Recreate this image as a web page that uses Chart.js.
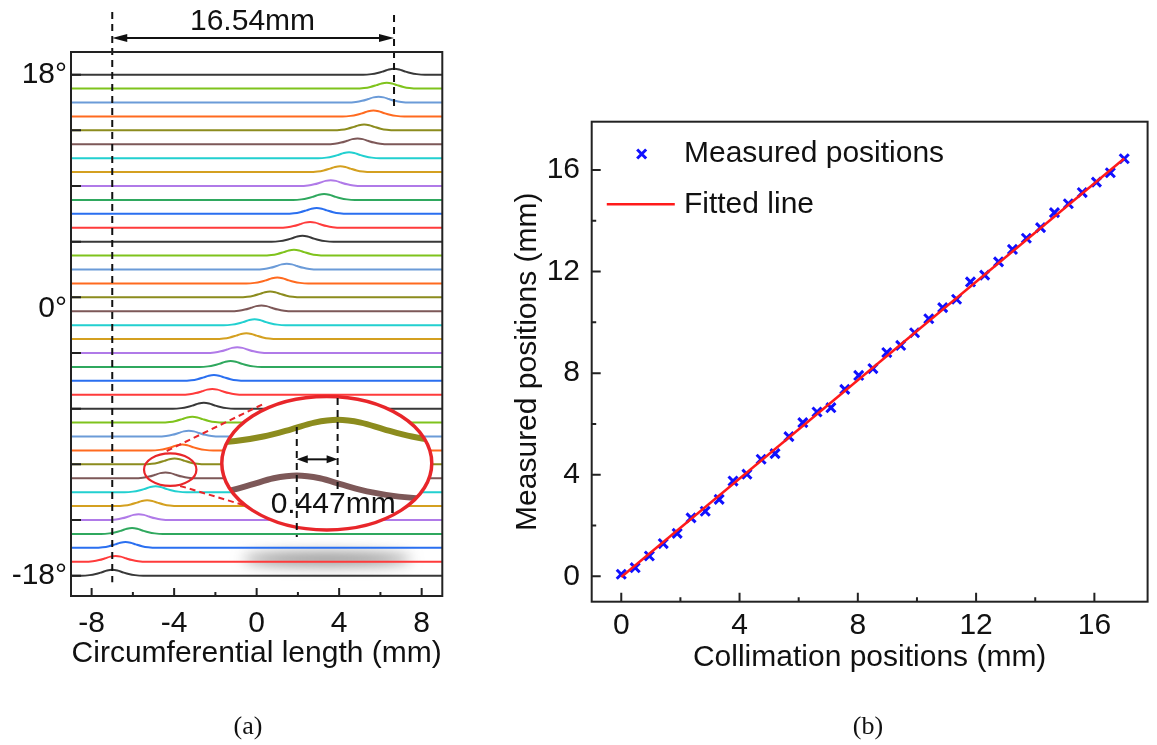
<!DOCTYPE html>
<html><head><meta charset="utf-8">
<script src="https://cdn.jsdelivr.net/npm/chart.js@4.4.1/dist/chart.umd.min.js"></script>
<style>
html,body{margin:0;padding:0;background:#fff;width:1157px;height:745px;overflow:hidden;}
#wa{position:absolute;left:0;top:0;width:470px;height:745px;}
#wb{position:absolute;left:480px;top:0;width:677px;height:745px;}
.cap{position:absolute;font-family:"Liberation Serif","Times New Roman",serif;font-size:26px;color:#111;transform:translate(-50%,-50%);}
</style></head><body>
<div id="wa"><canvas id="ca"></canvas></div>
<div id="wb"><canvas id="cb"></canvas></div>
<div class="cap" style="left:248px;top:726px">(a)</div>
<div class="cap" style="left:868px;top:726px">(b)</div>
<script>
// ---------------- DATA (panel a) ----------------
const angles = [-18,-17,-16,-15,-14,-13,-12,-11,-10,-9,-8,-7,-6,-5,-4,-3,-2,-1,0,1,2,3,4,5,6,7,8,9,10,11,12,13,14,15,16,17,18];
const peakCenters = [-7.00,-6.84,-6.36,-6.04,-5.72,-5.31,-4.90,-4.42,-3.98,-3.61,-3.29,-3.12,-2.56,-2.15,-2.07,-1.26,-0.94,-0.50,-0.10,0.23,0.65,1.00,1.46,1.81,2.22,2.59,2.91,3.27,3.59,4.05,4.48,4.89,5.21,5.66,5.91,6.31,6.66];
const profileOffsets = [-1.5,-1.1,-0.8,-0.5,-0.25,0,0.25,0.5,0.8,1.1,1.5];
const profileHeights = [0,0.04,0.12,0.25,0.37,0.42,0.37,0.25,0.12,0.04,0];
const xTicksA = [-8,-4,0,4,8];
const xMinorA = [-6,-2,2,6];
const yTickValuesA = [-18,1.2,18];          // label positions as placed in the original figure
const yTickLabelsA = ['-18°','0°','18°'];
const yMarksA = [-18,-14,-10,-6,-2,2,6,10,14,18];
const spanLabel = '16.54mm';
const shiftLabel = '0.447mm';

// ---------------- DATA (panel b) ----------------
const collimationPositions = [0,0.47,0.95,1.42,1.89,2.36,2.84,3.31,3.78,4.25,4.73,5.20,5.67,6.14,6.62,7.09,7.56,8.03,8.51,8.98,9.45,9.92,10.40,10.87,11.34,11.81,12.29,12.76,13.23,13.70,14.18,14.65,15.12,15.59,16.07,16.54,17.01];
const measuredPositions = [0.08,0.34,0.80,1.29,1.69,2.30,2.56,3.03,3.75,4.02,4.61,4.83,5.50,6.05,6.47,6.64,7.36,7.91,8.18,8.81,9.09,9.59,10.14,10.58,10.91,11.59,11.86,12.38,12.87,13.31,13.73,14.32,14.67,15.11,15.52,15.89,16.44];
const fitX = [0,17.01];
const fitY = [-0.03,16.45];
const xTicksB = [0,4,8,12,16];
const xMinorB = [2,6,10,14];
const yTicksB = [0,4,8,12,16];
const yMinorB = [2,6,10,14];

// ---------------- STYLE ----------------
const FONT = "'Liberation Sans', Arial, Helvetica, sans-serif";
const TXT = '#111111';
const palette = ['#383838','#ff3b3b','#2a6ff0','#2fa85e','#b07ae8','#d4a020','#22d0d0','#7d5858','#8c8c1e','#ff6a1f','#6b9bd8','#7fc31c'];
const RED = '#e8262a';
Chart.defaults.font.family = FONT;
Chart.defaults.color = TXT;

function arrowHead(ctx, xTip, y, dir, len, half){
  ctx.beginPath(); ctx.moveTo(xTip, y); ctx.lineTo(xTip - dir*len, y - half); ctx.lineTo(xTip - dir*len, y + half); ctx.closePath(); ctx.fill();
}
function doubleArrow(ctx, x1, x2, y, len, half, lw){
  ctx.lineWidth = lw; ctx.beginPath(); ctx.moveTo(x1 + len*0.8, y); ctx.lineTo(x2 - len*0.8, y); ctx.stroke();
  arrowHead(ctx, x1, y, -1, len, half); arrowHead(ctx, x2, y, 1, len, half);
}
function seg(ctx, x1, y1, x2, y2){ ctx.beginPath(); ctx.moveTo(x1,y1); ctx.lineTo(x2,y2); ctx.stroke(); }
function drawFrameTicks(chart, spec){
  const {ctx, chartArea:a, scales:{x,y}} = chart;
  ctx.save(); ctx.strokeStyle = '#222'; ctx.lineWidth = 2;
  ctx.strokeRect(a.left, a.top, a.right - a.left, a.bottom - a.top);
  ctx.beginPath();
  spec.xMajor.forEach(v => { const p = x.getPixelForValue(v); ctx.moveTo(p, a.bottom); ctx.lineTo(p, a.bottom - spec.majorLen); });
  spec.xMinor.forEach(v => { const p = x.getPixelForValue(v); ctx.moveTo(p, a.bottom); ctx.lineTo(p, a.bottom - spec.minorLen); });
  spec.yMajor.forEach(v => { const p = y.getPixelForValue(v); ctx.moveTo(a.left, p); ctx.lineTo(a.left + spec.yLen, p); });
  (spec.yMinor||[]).forEach(v => { const p = y.getPixelForValue(v); ctx.moveTo(a.left, p); ctx.lineTo(a.left + spec.minorLen, p); });
  ctx.stroke(); ctx.restore();
}

// ---------------- PANEL A ----------------
const datasetsA = angles.map((a, i) => {
  const c = peakCenters[i];
  const pts = [{x:-9, y:a}];
  profileOffsets.forEach((o, k) => pts.push({x:c + o, y:a + profileHeights[k]}));
  pts.push({x:9, y:a});
  return {data:pts, borderColor:palette[i % palette.length], borderWidth:2, pointRadius:0, cubicInterpolationMode:'monotone', fill:false};
});

// annotation geometry in data units of panel a
const annA = {
  guideLeft:[22.5,-18.47], guideRight:[22.29,15.68], spanArrowY:20.64, spanText:[-0.2,21.79],
  small:{cx:-4.19, cy:-10.38, rx:1.27, ry:1.17},
  big:{cx:3.40, cy:-9.92, rx:5.09, ry:4.79},
  connUpper:[[-4.36,-9.04],[0.40,-5.61]], connLower:[[-3.71,-11.55],[-0.65,-12.92]],
  insetDest:[2.98,-10.0], kx:4.5, ky:4.0,
  upperIdx: angles.indexOf(-10), lowerIdx: angles.indexOf(-11),
  upperGuide:[-5.23,-11.84], lowerGuide:[-7.31,-15.22], shiftArrowY:-9.64, shiftText:[3.71,-12.92],
  shadow:{cx:3.41, cy:-16.8, rx:4.1, ry:0.45}
};

const pluginA = {
  id:'annA',
  beforeDatasetsDraw(chart){
    const {ctx, scales:{x,y}} = chart; const s = annA.shadow;
    const cx = x.getPixelForValue(s.cx), cy = y.getPixelForValue(s.cy);
    const rx = x.getPixelForValue(s.cx + s.rx) - cx, ry = y.getPixelForValue(s.cy - s.ry) - cy;
    ctx.save(); ctx.filter = 'blur(7px)'; ctx.fillStyle = 'rgba(95,95,95,0.75)';
    ctx.beginPath(); ctx.ellipse(cx, cy, rx, ry, 0, 0, Math.PI*2); ctx.fill(); ctx.restore();
  },
  afterDatasetsDraw(chart){
    const {ctx, scales:{x,y}} = chart;
    const X = v => x.getPixelForValue(v), Y = v => y.getPixelForValue(v);
    const first = peakCenters[0], last = peakCenters[peakCenters.length-1];
    ctx.save();
    // guides
    ctx.strokeStyle = '#111'; ctx.fillStyle = '#111'; ctx.lineWidth = 2; ctx.setLineDash([7,5]);
    seg(ctx, X(first), Y(annA.guideLeft[0]), X(first), Y(annA.guideLeft[1]));
    seg(ctx, X(last), Y(annA.guideRight[0]), X(last), Y(annA.guideRight[1]));
    ctx.setLineDash([]);
    doubleArrow(ctx, X(first), X(last), Y(annA.spanArrowY), 15, 4, 2);
    ctx.font = '30px ' + FONT; ctx.textAlign = 'center'; ctx.textBaseline = 'middle';
    ctx.fillText(spanLabel, X(annA.spanText[0]), Y(annA.spanText[1]));
    // small ellipse
    const sm = annA.small;
    const scx = X(sm.cx), scy = Y(sm.cy);
    ctx.strokeStyle = RED; ctx.lineWidth = 2.2;
    ctx.beginPath(); ctx.ellipse(scx, scy, X(sm.cx+sm.rx)-scx, Y(sm.cy-sm.ry)-scy, 0, 0, Math.PI*2); ctx.stroke();
    // connectors
    ctx.setLineDash([6,4]); ctx.lineWidth = 2;
    [annA.connUpper, annA.connLower].forEach(c => seg(ctx, X(c[0][0]), Y(c[0][1]), X(c[1][0]), Y(c[1][1])));
    ctx.setLineDash([]);
    // big ellipse
    const bg = annA.big;
    const bcx = X(bg.cx), bcy = Y(bg.cy), brx = X(bg.cx+bg.rx)-bcx, bry = Y(bg.cy-bg.ry)-bcy;
    ctx.fillStyle = '#fff'; ctx.beginPath(); ctx.ellipse(bcx, bcy, brx, bry, 0, 0, Math.PI*2); ctx.fill();
    // inset curves (magnified copies of traces -10 and -11)
    const dcx = X(annA.insetDest[0]), dcy = Y(annA.insetDest[1]);
    const mapX = p => dcx + (p - scx)*annA.kx;
    ctx.save();
    ctx.beginPath(); ctx.ellipse(bcx, bcy, brx, bry, 0, 0, Math.PI*2); ctx.clip();
    [annA.upperIdx, annA.lowerIdx].forEach(idx => {
      const pts = chart.getDatasetMeta(idx).data;
      ctx.save();
      ctx.translate(dcx, dcy); ctx.scale(annA.kx, annA.ky); ctx.translate(-scx, -scy);
      ctx.beginPath(); ctx.moveTo(pts[0].x, pts[0].y);
      for (let k = 1; k < pts.length; k++){
        const p = pts[k-1], q = pts[k];
        ctx.bezierCurveTo(p.cp2x ?? p.x, p.cp2y ?? p.y, q.cp1x ?? q.x, q.cp1y ?? q.y, q.x, q.y);
      }
      ctx.restore();
      ctx.strokeStyle = palette[idx % palette.length]; ctx.lineWidth = 6; ctx.lineJoin = 'round'; ctx.stroke();
    });
    ctx.restore();
    ctx.strokeStyle = RED; ctx.lineWidth = 3.5;
    ctx.beginPath(); ctx.ellipse(bcx, bcy, brx, bry, 0, 0, Math.PI*2); ctx.stroke();
    // inset guides + arrow
    const ux = mapX(X(peakCenters[annA.upperIdx])), lx = mapX(X(peakCenters[annA.lowerIdx]));
    ctx.strokeStyle = '#111'; ctx.fillStyle = '#111'; ctx.lineWidth = 2; ctx.setLineDash([7,5]);
    seg(ctx, ux, Y(annA.upperGuide[0]), ux, Y(annA.upperGuide[1]));
    seg(ctx, lx, Y(annA.lowerGuide[0]), lx, Y(annA.lowerGuide[1]));
    ctx.setLineDash([]);
    doubleArrow(ctx, lx, ux, Y(annA.shiftArrowY), 11, 4, 2);
    ctx.font = '30px ' + FONT; ctx.textAlign = 'center'; ctx.textBaseline = 'middle'; ctx.fillStyle = '#111';
    ctx.fillText(shiftLabel, X(annA.shiftText[0]), Y(annA.shiftText[1]));
    ctx.restore();
  },
  afterDraw(chart){
    drawFrameTicks(chart, {xMajor:xTicksA, xMinor:xMinorA, yMajor:yMarksA, majorLen:8, minorLen:4, yLen:10});
  }
};

new Chart(document.getElementById('ca'), {
  type:'line',
  data:{datasets:datasetsA},
  options:{
    responsive:true, maintainAspectRatio:false, animation:false, events:[],
    layout:{padding:{top:52, right:27.7, bottom:73, left:0}},
    plugins:{legend:{display:false}, tooltip:{enabled:false}},
    scales:{
      x:{type:'linear', min:-9, max:9, grid:{display:false, drawTicks:false}, border:{display:false},
         afterBuildTicks:s => { s.ticks = xTicksA.map(v => ({value:v})); },
         ticks:{padding:10, autoSkip:false, maxRotation:0, font:{size:30}, color:TXT, callback:v => String(v)},
         title:{display:true, text:'Circumferential length (mm)', font:{size:30}, color:TXT, padding:0},
         afterFit:s => { s.height = 76; }},
      y:{type:'linear', min:-19.46, max:19.63, grid:{display:false, drawTicks:false}, border:{display:false},
         afterBuildTicks:s => { s.ticks = yTickValuesA.map(v => ({value:v})); },
         ticks:{padding:4, autoSkip:false, font:{size:30}, color:TXT, callback:(v, i) => yTickLabelsA[i]},
         afterFit:s => { s.width = 71; }}
    }
  },
  plugins:[pluginA]
});

// ---------------- PANEL B ----------------
const legendB = {marker:[0.69,16.63], text1:[2.12,16.63], line:[-0.49,1.81,14.65], text2:[2.12,14.65]};
function crossMark(ctx, x, y, r, lw, color){
  ctx.save(); ctx.strokeStyle = color; ctx.lineWidth = lw; ctx.beginPath();
  ctx.moveTo(x-r, y-r); ctx.lineTo(x+r, y+r); ctx.moveTo(x+r, y-r); ctx.lineTo(x-r, y+r); ctx.stroke(); ctx.restore();
}
const pluginB = {
  id:'annB',
  afterDraw(chart){
    const {ctx, scales:{x,y}} = chart;
    const X = v => x.getPixelForValue(v), Y = v => y.getPixelForValue(v);
    drawFrameTicks(chart, {xMajor:xTicksB, xMinor:xMinorB, yMajor:yTicksB, yMinor:yMinorB, majorLen:9, minorLen:4.5, yLen:9});
    crossMark(ctx, X(legendB.marker[0]), Y(legendB.marker[1]), 4.5, 3, '#1010ff');
    ctx.save(); ctx.strokeStyle = '#ff1a1a'; ctx.lineWidth = 2.5;
    seg(ctx, X(legendB.line[0]), Y(legendB.line[2]), X(legendB.line[1]), Y(legendB.line[2]));
    ctx.font = '30px ' + FONT; ctx.fillStyle = TXT; ctx.textAlign = 'left'; ctx.textBaseline = 'middle';
    ctx.fillText('Measured positions', X(legendB.text1[0]), Y(legendB.text1[1]));
    ctx.fillText('Fitted line', X(legendB.text2[0]), Y(legendB.text2[1]));
    ctx.restore();
  }
};

new Chart(document.getElementById('cb'), {
  type:'scatter',
  data:{datasets:[
    {type:'line', label:'Fitted line', data:fitX.map((v,i) => ({x:v, y:fitY[i]})), borderColor:'#ff1a1a', borderWidth:2.5, pointRadius:0, fill:false, order:0},
    {type:'scatter', label:'Measured positions', data:collimationPositions.map((v,i) => ({x:v, y:measuredPositions[i]})),
     pointStyle:'crossRot', pointRadius:6.4, pointBorderWidth:3, borderColor:'#1010ff', backgroundColor:'#1010ff', borderWidth:3, order:1}
  ]},
  options:{
    responsive:true, maintainAspectRatio:false, animation:false, events:[],
    layout:{padding:{top:121.7, right:8.3, bottom:69.5, left:0}},
    plugins:{legend:{display:false}, tooltip:{enabled:false}},
    scales:{
      x:{type:'linear', min:-1, max:17.8, grid:{display:false, drawTicks:false}, border:{display:false},
         afterBuildTicks:s => { s.ticks = xTicksB.map(v => ({value:v})); },
         ticks:{padding:6, autoSkip:false, maxRotation:0, font:{size:30}, color:TXT, callback:v => String(v)},
         title:{display:true, text:'Collimation positions (mm)', font:{size:30}, color:TXT, padding:0},
         afterFit:s => { s.height = 73.8; }},
      y:{type:'linear', min:-1, max:17.9, grid:{display:false, drawTicks:false}, border:{display:false},
         afterBuildTicks:s => { s.ticks = yTicksB.map(v => ({value:v})); },
         ticks:{padding:11.7, autoSkip:false, font:{size:30}, color:TXT, callback:v => String(v)},
         title:{display:true, text:'Measured positions (mm)', font:{size:30}, color:TXT, padding:{top:30, bottom:0}},
         afterFit:s => { s.width = 111.7; }}
    }
  },
  plugins:[pluginB]
});
</script>
</body></html>
